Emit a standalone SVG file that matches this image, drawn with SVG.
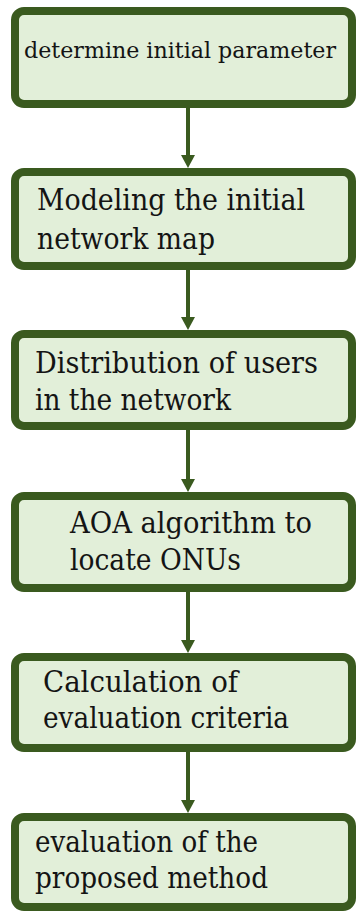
<svg xmlns="http://www.w3.org/2000/svg" width="358" height="913" viewBox="0 0 358 913">
<style>
.box{fill:#e2efd9;stroke:#3a5a1f;stroke-width:8}
.t{font-family:"DejaVu Serif",serif;font-size:30px;fill:#141414}
.t1{font-size:22px}
.c{stroke:#3a5a1f;stroke-width:4;fill:none}
.h{fill:#3a5a1f}
</style>
<g id="connectors">
<line class="c" x1="188" y1="108" x2="188" y2="157"/>
<path class="h" d="M181,155 L195,155 L188,168 Z"/>
<line class="c" x1="188" y1="270" x2="188" y2="318"/>
<path class="h" d="M181,317 L195,317 L188,330 Z"/>
<line class="c" x1="188" y1="430" x2="188" y2="480"/>
<path class="h" d="M181,479 L195,479 L188,492 Z"/>
<line class="c" x1="188" y1="592" x2="188" y2="641"/>
<path class="h" d="M181,640 L195,640 L188,653 Z"/>
<line class="c" x1="188" y1="752" x2="188" y2="801"/>
<path class="h" d="M181,800 L195,800 L188,813 Z"/>
</g>
<g id="n1">
<rect class="box" x="15" y="11" width="337" height="93" rx="9"/>
<text class="t t1" x="24" y="58" textLength="312" lengthAdjust="spacingAndGlyphs">determine initial parameter</text>
</g>
<g id="n2">
<rect class="box" x="15" y="172" width="337" height="94" rx="9"/>
<text class="t" x="37" y="210" textLength="268" lengthAdjust="spacingAndGlyphs">Modeling the initial</text>
<text class="t" x="37" y="249" textLength="178" lengthAdjust="spacingAndGlyphs">network map</text>
</g>
<g id="n3">
<rect class="box" x="15" y="334" width="337" height="92" rx="9"/>
<text class="t" x="35" y="373" textLength="283" lengthAdjust="spacingAndGlyphs">Distribution of users</text>
<text class="t" x="35" y="410" textLength="196" lengthAdjust="spacingAndGlyphs">in the network</text>
</g>
<g id="n4">
<rect class="box" x="15" y="496" width="337" height="92" rx="9"/>
<text class="t" x="70" y="533" textLength="242" lengthAdjust="spacingAndGlyphs">AOA algorithm to</text>
<text class="t" x="70" y="570" textLength="171" lengthAdjust="spacingAndGlyphs">locate ONUs</text>
</g>
<g id="n5">
<rect class="box" x="15" y="657" width="337" height="91" rx="9"/>
<text class="t" x="43" y="692" textLength="195" lengthAdjust="spacingAndGlyphs">Calculation of</text>
<text class="t" x="43" y="728" textLength="246" lengthAdjust="spacingAndGlyphs">evaluation criteria</text>
</g>
<g id="n6">
<rect class="box" x="15" y="817" width="337" height="90" rx="9"/>
<text class="t" x="35" y="852" textLength="223" lengthAdjust="spacingAndGlyphs">evaluation of the</text>
<text class="t" x="35" y="888" textLength="233" lengthAdjust="spacingAndGlyphs">proposed method</text>
</g>
</svg>
